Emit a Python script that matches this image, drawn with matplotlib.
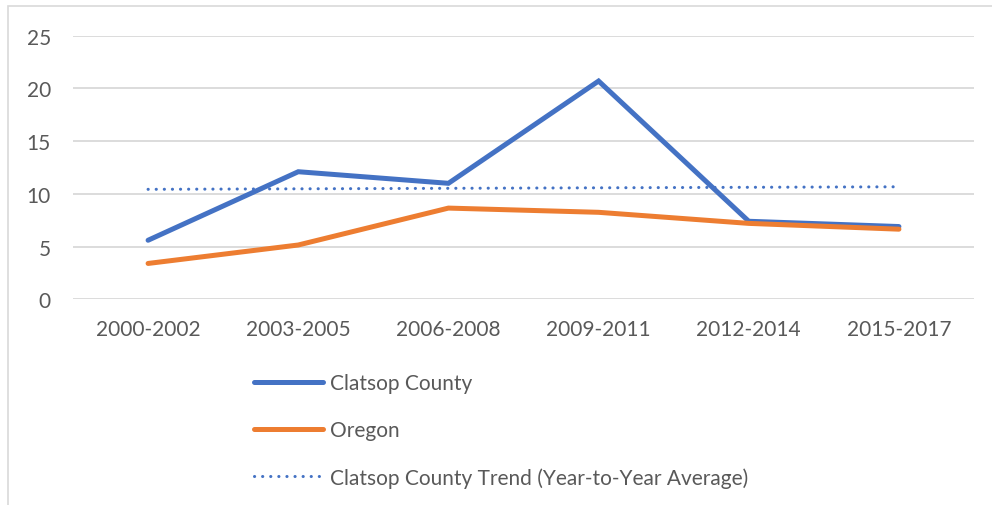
import matplotlib
matplotlib.use("Agg")
import matplotlib.pyplot as plt
from matplotlib.patches import Rectangle

# --- data ---
periods = ["2000-2002", "2003-2005", "2006-2008", "2009-2011", "2012-2014", "2015-2017"]
clatsop = [5.6, 12.1, 11.0, 20.7, 7.4, 6.9]
oregon = [3.4, 5.15, 8.65, 8.25, 7.2, 6.65]
trend_x = [0, 5]
trend_y = [10.43, 10.67]

BLUE = "#4472C4"
ORANGE = "#ED7D31"
GRID = "#D9D9D9"
TEXT = "#595959"

plt.rcParams["font.family"] = ["Lato", "DejaVu Sans"]

fig = plt.figure(figsize=(9.92, 5.06), dpi=100)
ax = fig.add_axes([73 / 992, 1 - 300.3 / 506, 901 / 992, (300.3 - 36.7) / 506])

# outer chart-area border (only left/top visible in the crop)
fig.patches.append(Rectangle((8 / 992, -0.1), 1.2, 1.1 - 7 / 506, transform=fig.transFigure,
                             fill=False, edgecolor=GRID, linewidth=1.2, zorder=0))

x = list(range(len(periods)))
ax.plot(x, clatsop, color=BLUE, lw=3.6, solid_capstyle="round", solid_joinstyle="miter",
        label="Clatsop County", zorder=3)
ax.plot(x, oregon, color=ORANGE, lw=3.6, solid_capstyle="round", solid_joinstyle="miter",
        label="Oregon", zorder=4)
ax.plot(trend_x, trend_y, color=BLUE, lw=2.2, linestyle=(0, (0.05, 2.6)),
        dash_capstyle="round", label="Clatsop County Trend (Year-to-Year Average)", zorder=2)

ax.set_xlim(-0.5, len(periods) - 0.5)
ax.set_ylim(0, 25)
ax.set_yticks(range(0, 26, 5))
ax.set_xticks(x)
ax.set_xticklabels(periods)
ax.grid(axis="y", color=GRID, lw=1.3)
ax.set_axisbelow(True)
for s in ax.spines.values():
    s.set_visible(False)
ax.tick_params(axis="both", length=0, labelsize=15, labelcolor=TEXT)
ax.tick_params(axis="y", pad=16)
ax.tick_params(axis="x", pad=14)

fig.legend(loc="upper left", bbox_to_anchor=(254 / 992, 1 - 374 / 506), frameon=False,
           fontsize=15, labelcolor=TEXT, handlelength=3.3, handletextpad=0.35,
           labelspacing=1.3, borderpad=0, borderaxespad=0)

fig.savefig("out.png", dpi=100)
